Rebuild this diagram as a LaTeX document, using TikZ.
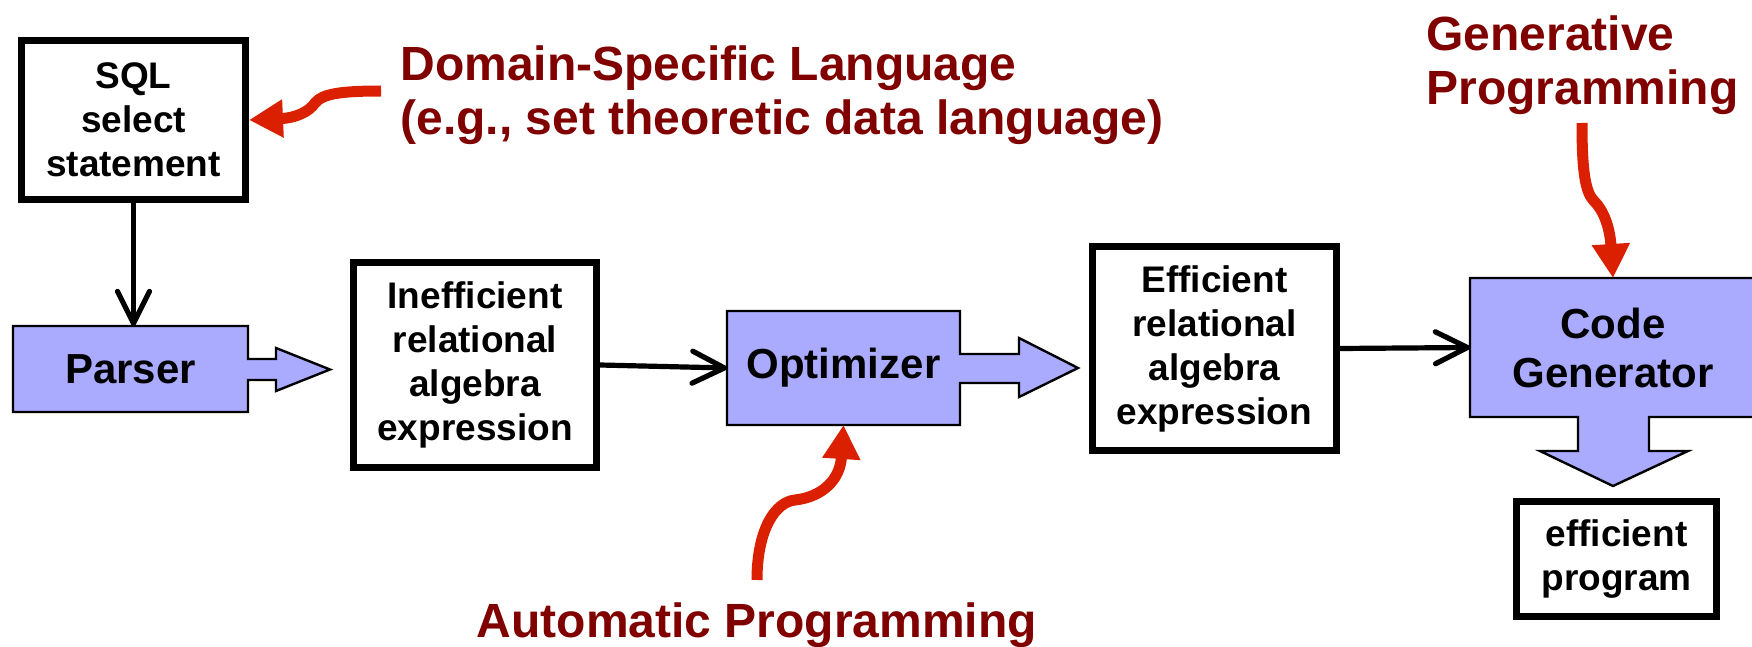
\documentclass[tikz,border=0pt]{standalone}
\usepackage{fontspec}
\setmainfont{Liberation Sans}[Ligatures=NoCommon]
\usetikzlibrary{arrows.meta}
\definecolor{boxblue}{RGB}{170,170,255}
\definecolor{labelred}{RGB}{128,0,0}
\definecolor{hintred}{RGB}{218,32,0}
\begin{document}
\begin{tikzpicture}[x=0.5pt,y=-0.5pt,
  whitebox/.style={draw, line width=3.5pt, fill=white, align=center,
    font=\fontsize{18.5}{22}\selectfont\bfseries, inner sep=0pt},
  bluetext/.style={align=center, font=\fontsize{21}{24.5}\selectfont\bfseries,
    inner sep=0pt, outer sep=0pt},
  blueshape/.style={fill=boxblue, draw=black, line width=1.2pt, line join=miter},
  flow/.style={line width=2.6pt, -{Straight Barb[length=16pt,width=16pt,round]}},
  hint/.style={draw=hintred, line width=5.5pt, -{Triangle[length=17pt,width=18pt]}},
  remark/.style={text=labelred, font=\fontsize{24}{27}\selectfont\bfseries,
    align=left, inner sep=0pt}]
\useasboundingbox (0,0) rectangle (1752,647);

% plain text boxes
\node[whitebox, minimum width=112pt, minimum height=79.5pt] (sql) at (133.5,120)
  {SQL\\select\\statement};
\node[whitebox, minimum width=121.5pt, minimum height=102.5pt] (ineff) at (475,365)
  {Inefficient\\relational\\algebra\\expression};
\node[whitebox, minimum width=122pt, minimum height=102pt] (eff) at (1214.5,348.5)
  {Efficient\\relational\\algebra\\expression};
\node[whitebox, minimum width=100pt, minimum height=57.5pt] (prog) at (1616.5,559)
  {efficient\\program};

% processing stages: box with a block arrow attached
\filldraw[blueshape] (13,326) -- (248,326) -- (248,359) -- (276,359) -- (276,348)
  -- (330,369.5) -- (276,391) -- (276,380) -- (248,380) -- (248,412) -- (13,412) -- cycle;
\node[bluetext, minimum width=117.5pt, minimum height=43pt] (parser) at (130.5,369) {Parser};

\filldraw[blueshape] (727,311) -- (960,311) -- (960,354) -- (1019,354) -- (1019,338)
  -- (1078,368) -- (1019,397) -- (1019,383) -- (960,383) -- (960,425) -- (727,425) -- cycle;
\node[bluetext, minimum width=116.5pt, minimum height=57pt] (opt) at (843.5,368) {Optimizer};

\filldraw[blueshape] (1470,278) -- (1760,278) -- (1760,417) -- (1649,417) -- (1649,451)
  -- (1688,451) -- (1613,486) -- (1540,451) -- (1578,451) -- (1578,417) -- (1470,417) -- cycle;
\node[bluetext, minimum width=143pt, minimum height=69.5pt] (codegen) at (1613,347.5)
  {Code\\Generator};

% data flow
\draw[flow] (sql.south) -- (sql.south |- parser.north);
\draw[flow] (ineff.east) -- (opt.west);
\draw[flow] (eff.east) -- (codegen.west);

% annotations
\node[remark, anchor=west] (dsl) at (400,95.5)
  {Domain-Specific Language\\(e.g., set theoretic data language)};
\node[remark, anchor=west] (gen) at (1426,65.5) {Generative\\Programming};
\node[remark] (auto) at (757,625.5) {Automatic Programming};

\coordinate (dsltail) at (381,91);
\coordinate (autotail) at (757,580);
\coordinate (gentail) at (1582,123);
\draw[hint] (dsltail) .. controls (340,91) and (322,94) .. (315,103)
  .. controls (309,112) and (295,118) .. (sql.east);
\draw[hint] (autotail) .. controls (757,530) and (775,502) .. (795,500)
  .. controls (822,497) and (840,480) .. (opt.south);
\draw[hint] (gentail) .. controls (1582,170) and (1585,192) .. (1594,201)
  .. controls (1605,212) and (1610,230) .. (codegen.north);
\end{tikzpicture}
\end{document}
